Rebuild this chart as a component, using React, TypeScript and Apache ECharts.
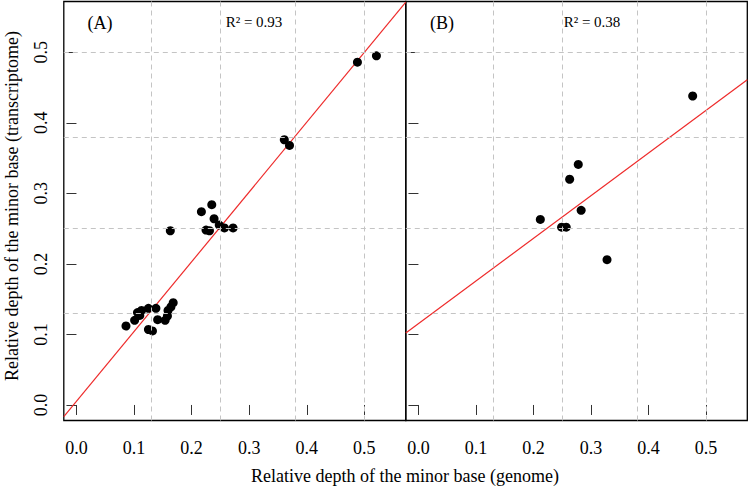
import React, { useEffect, useRef } from "react";
import * as echarts from "echarts";

// Panel A: genome vs transcriptome relative depth of minor base
const panelAPoints: [number, number][] = [
  [0.086, 0.112], [0.101, 0.120], [0.106, 0.131], [0.113, 0.134], [0.110, 0.127],
  [0.125, 0.137], [0.125, 0.107], [0.132, 0.105], [0.138, 0.137], [0.141, 0.121],
  [0.154, 0.120], [0.158, 0.126], [0.159, 0.134], [0.164, 0.139], [0.168, 0.145],
  [0.163, 0.247], [0.217, 0.274], [0.235, 0.284], [0.239, 0.264], [0.225, 0.248],
  [0.231, 0.247], [0.248, 0.255], [0.257, 0.251], [0.272, 0.251],
  [0.361, 0.376], [0.370, 0.368], [0.488, 0.486], [0.521, 0.495],
];
// Panel B
const panelBPoints: [number, number][] = [
  [0.212, 0.263], [0.249, 0.252], [0.257, 0.252], [0.263, 0.320],
  [0.278, 0.341], [0.283, 0.276], [0.328, 0.206], [0.477, 0.438],
];
// Regression line endpoints (at the plot limits)
const fitA: [number, number][] = [[-0.022, -0.0166], [0.572, 0.571]];
const fitB: [number, number][] = [[-0.022, 0.102], [0.572, 0.461]];

const tickValues = [0, 0.1, 0.2, 0.3, 0.4, 0.5];
const gridValues = [0.125, 0.25, 0.375, 0.5];
const axisMin = -0.022;
const axisMax = 0.572;

const labelA = "(A)";
const labelB = "(B)";
const r2A = "R\u00B2 = 0.93";
const r2B = "R\u00B2 = 0.38";
const xTitle = "Relative depth of the minor base (genome)";
const yTitle = "Relative depth of the minor base (transcriptome)";

const FONT = "Liberation Serif";

function makeX(gridIndex: number) {
  return {
    type: "value",
    gridIndex,
    min: axisMin,
    max: axisMax,
    axisLine: { show: false },
    splitLine: { show: false },
    axisTick: {
      show: true,
      customValues: tickValues,
      length: 10,
      lineStyle: { color: "#333", width: 1 },
    },
    axisLabel: {
      show: true,
      customValues: tickValues,
      formatter: (v: number) => v.toFixed(1),
      fontFamily: FONT,
      fontSize: 18,
      color: "#000",
      margin: 18,
    },
  };
}

function makeY(gridIndex: number, showLabel: boolean) {
  return {
    type: "value",
    gridIndex,
    min: axisMin,
    max: axisMax,
    axisLine: { show: false },
    splitLine: { show: false },
    axisTick: {
      show: true,
      customValues: tickValues,
      length: 10,
      lineStyle: { color: "#333", width: 1 },
    },
    axisLabel: {
      show: showLabel,
      customValues: tickValues,
      formatter: (v: number) => v.toFixed(1),
      fontFamily: FONT,
      fontSize: 18,
      color: "#000",
      rotate: 90,
      margin: 14,
    },
  };
}

function gridSeries(idx: number) {
  return {
    type: "line",
    xAxisIndex: idx,
    yAxisIndex: idx,
    data: [],
    z: 1,
    silent: true,
    markLine: {
      silent: true,
      symbol: ["none", "none"],
      label: { show: false },
      lineStyle: { color: "#c4c4c4", width: 1, type: [5, 4] },
      data: [
        ...gridValues.map((v) => ({ xAxis: v })),
        ...gridValues.map((v) => ({ yAxis: v })),
      ],
    },
  };
}

export default function App() {
  const ref = useRef<HTMLDivElement>(null);
  useEffect(() => {
    if (!ref.current) return;
    const chart = echarts.init(ref.current, null, { renderer: "svg" });
    chart.setOption({
      animation: false,
      backgroundColor: "#fff",
      textStyle: { fontFamily: FONT },
      grid: [
        { left: 63.8, top: 1.5, width: 342, height: 419, show: true, borderColor: "#000", borderWidth: 1.3, backgroundColor: "transparent" },
        { left: 405.8, top: 1.5, width: 341.5, height: 419, show: true, borderColor: "#000", borderWidth: 1.3, backgroundColor: "transparent" },
      ],
      xAxis: [makeX(0), makeX(1)],
      yAxis: [makeY(0, true), makeY(1, false)],
      series: [
        gridSeries(0),
        gridSeries(1),
        {
          type: "line",
          xAxisIndex: 0,
          yAxisIndex: 0,
          data: fitA,
          showSymbol: false,
          symbol: "none",
          lineStyle: { color: "#ee2b2b", width: 1.2 },
          z: 2,
          clip: true,
        },
        {
          type: "line",
          xAxisIndex: 1,
          yAxisIndex: 1,
          data: fitB,
          showSymbol: false,
          symbol: "none",
          lineStyle: { color: "#ee2b2b", width: 1.2 },
          z: 2,
          clip: true,
        },
        {
          type: "scatter",
          xAxisIndex: 0,
          yAxisIndex: 0,
          data: panelAPoints,
          symbol: "circle",
          symbolSize: 9,
          itemStyle: { color: "#000", opacity: 1 },
          z: 3,
        },
        {
          type: "scatter",
          xAxisIndex: 1,
          yAxisIndex: 1,
          data: panelBPoints,
          symbol: "circle",
          symbolSize: 9,
          itemStyle: { color: "#000", opacity: 1 },
          z: 3,
        },
      ],
      graphic: [
        { type: "text", x: 100, y: 23, z: 10, style: { text: labelA, font: `18px ${FONT}`, fill: "#000", textAlign: "center", textVerticalAlign: "middle" } },
        { type: "text", x: 254, y: 22, z: 10, style: { text: r2A, font: `15px ${FONT}`, fill: "#000", textAlign: "center", textVerticalAlign: "middle" } },
        { type: "text", x: 442, y: 23, z: 10, style: { text: labelB, font: `18px ${FONT}`, fill: "#000", textAlign: "center", textVerticalAlign: "middle" } },
        { type: "text", x: 592, y: 22, z: 10, style: { text: r2B, font: `15px ${FONT}`, fill: "#000", textAlign: "center", textVerticalAlign: "middle" } },
        { type: "text", x: 405, y: 476, z: 10, style: { text: xTitle, font: `18px ${FONT}`, fill: "#000", textAlign: "center", textVerticalAlign: "middle" } },
        { type: "text", x: 12, y: 206, rotation: Math.PI / 2, z: 10, style: { text: yTitle, font: `18px ${FONT}`, fill: "#000", textAlign: "center", textVerticalAlign: "middle" } },
      ],
    });
    return () => chart.dispose();
  }, []);
  return (
    <div
      ref={ref}
      style={{ position: "absolute", left: 0, top: 0, width: 750, height: 489 }}
    />
  );
}
